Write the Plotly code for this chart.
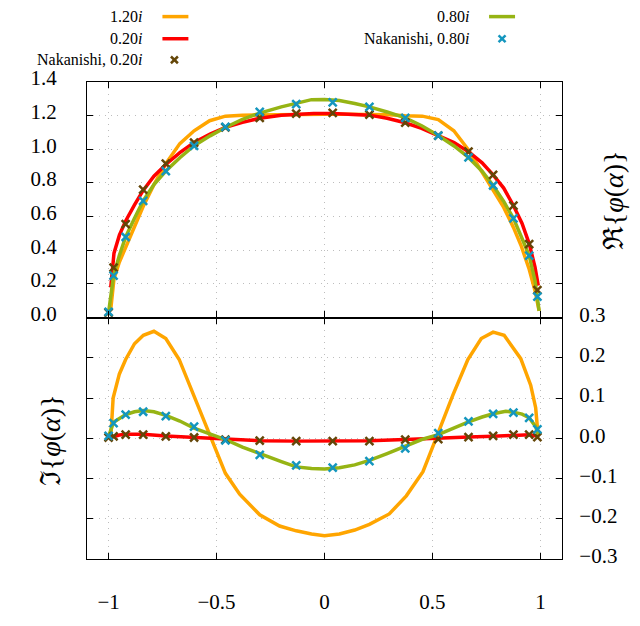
import plotly.graph_objects as go

# ---------------- data ----------------
# Nakanishi sample points (shared abscissae)
nak_x = [-1.0, -0.977, -0.921, -0.840, -0.735, -0.604, -0.459, -0.300, -0.131,
         0.038, 0.208, 0.374, 0.527, 0.667, 0.781, 0.875, 0.948, 0.986]
nak020_re = [0.03, 0.297, 0.555, 0.760, 0.915, 1.040, 1.130, 1.187, 1.212,
             1.216, 1.206, 1.158, 1.082, 0.986, 0.848, 0.666, 0.437, 0.163]
nak080_re = [0.034, 0.249, 0.479, 0.693, 0.871, 1.021, 1.134, 1.222, 1.269,
             1.279, 1.252, 1.187, 1.082, 0.952, 0.785, 0.590, 0.368, 0.125]
nak020_im = [0.002, 0.005, 0.009, 0.009, 0.005, 0.002, -0.003, -0.006, -0.007,
             -0.007, -0.007, -0.003, -0.002, 0.003, 0.006, 0.009, 0.009, 0.003]
nak080_im = [0.006, 0.038, 0.059, 0.066, 0.055, 0.029, -0.005, -0.041, -0.067,
             -0.073, -0.057, -0.025, 0.013, 0.042, 0.061, 0.064, 0.051, 0.022]

# 1.20i curve
o_re_x = [-0.99, -0.975, -0.95, -0.921, -0.88, -0.84, -0.79, -0.735, -0.67, -0.604,
          -0.532, -0.459, -0.38, -0.3, -0.2, -0.1, 0.0, 0.1, 0.2, 0.3, 0.374, 0.453,
          0.527, 0.599, 0.667, 0.731, 0.781, 0.83, 0.875, 0.91, 0.948, 0.975, 0.994]
o_re_y = [0.05, 0.23, 0.33, 0.42, 0.54, 0.66, 0.79, 0.915, 1.034, 1.11,
          1.17, 1.197, 1.203, 1.205, 1.207, 1.208, 1.208, 1.208, 1.207, 1.205, 1.20, 1.197,
          1.177, 1.11, 0.996, 0.862, 0.766, 0.655, 0.536, 0.43, 0.287, 0.16, 0.04]
o_im_x = [-0.99, -0.979, -0.95, -0.921, -0.88, -0.839, -0.79, -0.735, -0.673, -0.6,
          -0.53, -0.459, -0.393, -0.3, -0.208, -0.131, -0.06, 0.0, 0.069, 0.14, 0.208,
          0.3, 0.379, 0.456, 0.503, 0.595, 0.664, 0.726, 0.781, 0.832, 0.909, 0.955,
          0.978, 0.989]
o_im_y = [0.0, 0.10, 0.16, 0.196, 0.235, 0.256, 0.266, 0.248, 0.196, 0.10,
          0.008, -0.087, -0.139, -0.19, -0.218, -0.23, -0.238, -0.242, -0.238, -0.228, -0.214,
          -0.188, -0.143, -0.083, -0.019, 0.108, 0.196, 0.248, 0.264, 0.256, 0.198, 0.132,
          0.076, 0.009]

# 0.20i curve
r_re_x = [-0.99, -0.975, -0.95, -0.921, -0.88, -0.84, -0.79, -0.735, -0.67, -0.604,
          -0.53, -0.459, -0.38, -0.3, -0.2, -0.131, -0.05, 0.038, 0.12, 0.208, 0.29,
          0.374, 0.45, 0.527, 0.6, 0.667, 0.73, 0.781, 0.83, 0.875, 0.915, 0.948,
          0.975, 0.99]
r_re_y = [0.18, 0.383, 0.49, 0.574, 0.67, 0.756, 0.84, 0.91, 0.98, 1.04,
          1.09, 1.13, 1.16, 1.185, 1.203, 1.21, 1.213, 1.213, 1.21, 1.203, 1.185,
          1.158, 1.125, 1.082, 1.04, 0.986, 0.92, 0.848, 0.77, 0.666, 0.56, 0.44,
          0.30, 0.19]
r_im_x = [-0.99, -0.95, -0.921, -0.84, -0.735, -0.604, -0.459, -0.3, -0.131, 0.038,
          0.208, 0.374, 0.527, 0.667, 0.781, 0.875, 0.948, 0.99]
r_im_y = [0.002, 0.008, 0.010, 0.010, 0.006, 0.002, -0.003, -0.006, -0.007, -0.007,
          -0.006, -0.003, 0.001, 0.003, 0.005, 0.008, 0.009, 0.005]

# 0.80i curve
g_re_x = [-1.0, -0.977, -0.95, -0.921, -0.88, -0.84, -0.79, -0.735, -0.67, -0.604,
          -0.53, -0.459, -0.38, -0.3, -0.2, -0.131, -0.06, 0.0, 0.069, 0.14, 0.208,
          0.29, 0.374, 0.45, 0.527, 0.6, 0.667, 0.73, 0.781, 0.83, 0.875, 0.915,
          0.948, 0.975, 0.986, 0.994]
g_re_y = [0.03, 0.25, 0.37, 0.479, 0.59, 0.693, 0.79, 0.871, 0.95, 1.021,
          1.08, 1.13, 1.178, 1.215, 1.252, 1.275, 1.295, 1.296, 1.29, 1.272, 1.252,
          1.222, 1.187, 1.14, 1.082, 1.02, 0.952, 0.87, 0.785, 0.69, 0.59, 0.47,
          0.368, 0.22, 0.13, 0.04]
g_im_x = [-1.0, -0.986, -0.977, -0.921, -0.88, -0.84, -0.79, -0.735, -0.67, -0.604,
          -0.53, -0.459, -0.38, -0.3, -0.2, -0.131, -0.06, 0.0, 0.069, 0.14, 0.208,
          0.29, 0.374, 0.45, 0.527, 0.6, 0.667, 0.73, 0.781, 0.84, 0.875, 0.915,
          0.948, 0.978, 0.99]
g_im_y = [0.005, 0.029, 0.04, 0.059, 0.066, 0.069, 0.066, 0.057, 0.043, 0.025,
          0.011, -0.003, -0.022, -0.039, -0.058, -0.071, -0.075, -0.076, -0.073, -0.066, -0.055,
          -0.038, -0.019, -0.003, 0.009, 0.026, 0.041, 0.053, 0.061, 0.067, 0.065, 0.06,
          0.051, 0.029, 0.009]

x_ticks = [-1, -0.5, 0, 0.5, 1]
x_ticktext = ["\u22121", "\u22120.5", "0", "0.5", "1"]
re_ticks = [0.0, 0.2, 0.4, 0.6, 0.8, 1.0, 1.2, 1.4]
im_ticks = [-0.3, -0.2, -0.1, 0.0, 0.1, 0.2, 0.3]
im_ticktext = ["\u22120.3", "\u22120.2", "\u22120.1", "0.0", "0.1", "0.2", "0.3"]

labels = ["1.20<i>i</i>", "0.20<i>i</i>", "Nakanishi, 0.20<i>i</i>",
          "0.80<i>i</i>", "Nakanishi, 0.80<i>i</i>"]

# ---------------- style ----------------
C_OR = "#FFA500"
C_RED = "#FF0000"
C_GR = "#96B414"
C_BR = "#644608"
C_CY = "#1496BE"
FONT = "Liberation Serif"
LW = 3.5

fig = go.Figure()

def line(x, y, c, ax):
    fig.add_trace(go.Scatter(x=x, y=y, mode="lines", line=dict(color=c, width=LW),
                             xaxis=ax[0], yaxis=ax[1], showlegend=False))

def marks(x, y, c, ax):
    fig.add_trace(go.Scatter(x=x, y=y, mode="markers",
                             marker=dict(symbol="x-thin", size=8, color=c,
                                         line=dict(color=c, width=2.5)),
                             xaxis=ax[0], yaxis=ax[1], showlegend=False))

top = ("x2", "y2")
bot = ("x", "y")
line(o_re_x, o_re_y, C_OR, top)
line(r_re_x, r_re_y, C_RED, top)
line(g_re_x, g_re_y, C_GR, top)
marks(nak_x, nak020_re, C_BR, top)
marks(nak_x, nak080_re, C_CY, top)
line(o_im_x, o_im_y, C_OR, bot)
line(r_im_x, r_im_y, C_RED, bot)
line(g_im_x, g_im_y, C_GR, bot)
marks(nak_x, nak020_im, C_BR, bot)
marks(nak_x, nak080_im, C_CY, bot)

W, H = 640, 626
L, R, T, B = 86.5, 562, 82, 578
SPLIT = 327
ydiv = (B - SPLIT) / (B - T)

common = dict(showline=True, linecolor="black", linewidth=1.3, mirror="ticks",
              ticks="inside", ticklen=6, tickcolor="black", tickwidth=1,
              showgrid=True, gridcolor="#bdbdbd", griddash="1px,5px", gridwidth=1,
              zeroline=False, tickfont=dict(family=FONT, size=21, color="black"))

fig.update_layout(
    width=W, height=H, paper_bgcolor="white", plot_bgcolor="white",
    margin=dict(l=L, r=W - R, t=T, b=H - B),
    showlegend=False,
    xaxis=dict(domain=[0, 1], range=[-1.1, 1.1], anchor="y", tickvals=x_ticks,
               ticktext=x_ticktext, ticklabelstandoff=24, **common),
    xaxis2=dict(domain=[0, 1], range=[-1.1, 1.1], anchor="y2", matches="x",
                tickvals=x_ticks, showticklabels=False, **common),
    yaxis=dict(domain=[0, ydiv], range=[-0.3, 0.3], anchor="x", side="right",
               tickvals=im_ticks, ticktext=im_ticktext, ticklabelstandoff=12,
               ticklabelshift=-3, **common),
    yaxis2=dict(domain=[ydiv, 1], range=[0, 1.4], anchor="x2", side="left",
                tickvals=re_ticks, tickformat=".1f", ticklabelstandoff=25,
                ticklabelshift=-4, **common),
)

def px2paper(px, py):
    return (px - L) / (R - L), (B - py) / (B - T)

# axis titles
for txt, (px, py) in [("\u211c{<i>\u03c6</i>(<i>\u03b1</i>)}", (613, 205)),
                      ("\u2111{<i>\u03c6</i>(<i>\u03b1</i>)}", (50, 455))]:
    xp, yp = px2paper(px, py)
    fig.add_annotation(x=xp, y=yp, xref="paper", yref="paper", text=txt,
                       textangle=-90, showarrow=False, xanchor="center",
                       yanchor="middle",
                       font=dict(family=FONT, size=28, color="black"))

# custom legend (text right-aligned, sample to the right)
entries = [
    (labels[0], 143, 14, "line", C_OR, 175),
    (labels[1], 143, 37, "line", C_RED, 175),
    (labels[2], 143, 59, "mark", C_BR, 174),
    (labels[3], 470, 14, "line", C_GR, 502),
    (labels[4], 470, 37, "mark", C_CY, 502),
]
for txt, tx, ty, kind, c, sx in entries:
    xp, yp = px2paper(tx, ty)
    fig.add_annotation(x=xp, y=yp, xref="paper", yref="paper", text=txt,
                       xanchor="right", yanchor="middle", showarrow=False,
                       borderpad=0,
                       font=dict(family=FONT, size=16, color="black"))
    if kind == "line":
        x0, y0 = px2paper(sx - 13, ty)
        x1, _ = px2paper(sx + 13, ty)
        fig.add_shape(type="line", xref="paper", yref="paper", x0=x0, x1=x1,
                      y0=y0, y1=y0, line=dict(color=c, width=LW))
    else:
        d = 3.5
        for a, b in [((-d, -d), (d, d)), ((-d, d), (d, -d))]:
            x0, y0 = px2paper(sx + a[0], ty + a[1])
            x1, y1 = px2paper(sx + b[0], ty + b[1])
            fig.add_shape(type="line", xref="paper", yref="paper", x0=x0, x1=x1,
                          y0=y0, y1=y1, line=dict(color=c, width=2.5))

fig.write_html("out.html", config={"displayModeBar": False},
               post_script="document.body.style.margin='0';")
